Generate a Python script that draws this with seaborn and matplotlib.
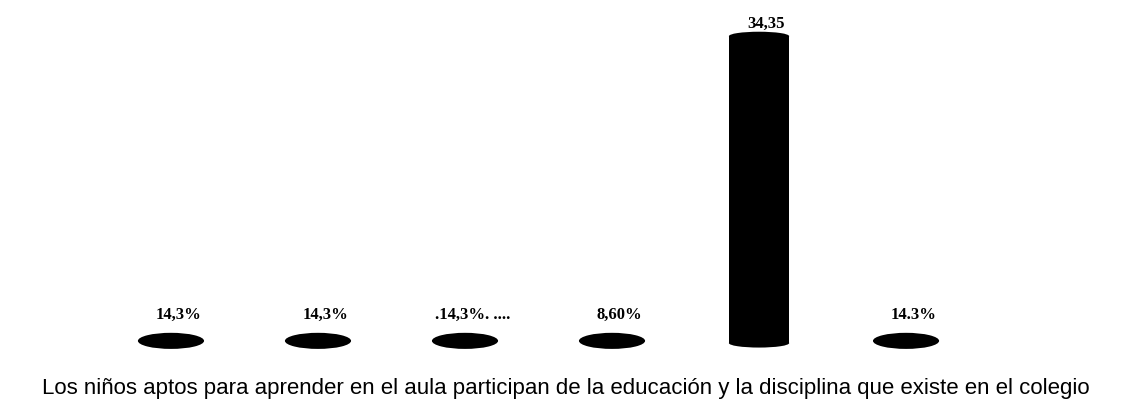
import matplotlib
matplotlib.use("Agg")
import matplotlib.pyplot as plt
from matplotlib.patches import Ellipse
import seaborn as sns
import pandas as pd

# valores
categorias = ["C1", "C2", "C3", "C4", "C5", "C6"]
alturas = [0.5, 0.5, 0.5, 0.5, 34.35, 0.5]
etiquetas = ["14,3%", "14,3%", ".14,3%. ....", "8,60%", "34,35", "14.3%"]
texto_eje = "Los niños aptos para aprender en el aula participan de la educación y la disciplina que existe en el colegio"

df = pd.DataFrame({"cat": categorias, "valor": alturas})

sns.set_style("white")
fig = plt.figure(figsize=(11.22, 4.11), dpi=100)
ax = fig.add_axes([0, 0, 1, 1])

sns.barplot(data=df, x="cat", y="valor", color="black", width=0.41,
            saturation=1, linewidth=0, ax=ax)

# tapas elipticas de los cilindros
for i, h in enumerate(alturas):
    if h < 5:
        ax.add_patch(Ellipse((i, h / 2), 0.45, 1.8, color="black", lw=0))
    else:
        ax.add_patch(Ellipse((i, h), 0.41, 1.0, color="black", lw=0))
        ax.add_patch(Ellipse((i, 0), 0.41, 1.0, color="black", lw=0))

for i, (h, t) in enumerate(zip(alturas, etiquetas)):
    off = 1.8 if h < 5 else 0.5
    ax.text(i + 0.05, h + off, t, ha="center", va="bottom", color="black",
            fontsize=12, fontweight="bold", family="Liberation Serif")

ax.set_xlim(-1.163, 6.469)
ax.set_ylim(-7.6, 38.4)
ax.axis("off")

fig.text(0.037, 0.055, texto_eje, ha="left", va="center", fontsize=16,
         color="black", family="Liberation Sans")

fig.savefig("out.png", dpi=100)
